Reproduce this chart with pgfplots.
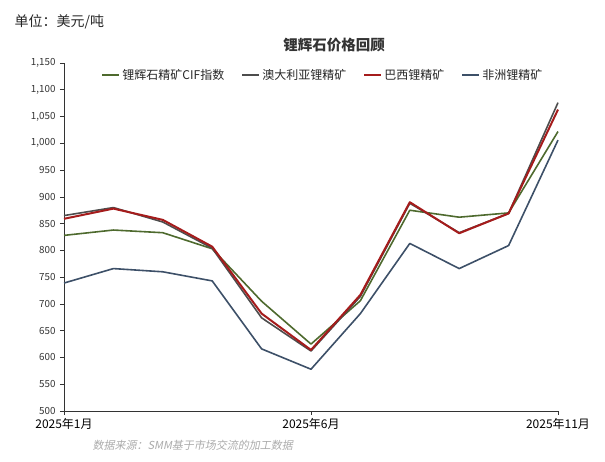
\documentclass[border=0pt]{standalone}
\usepackage{fontspec}
\setmainfont{Noto Sans CJK SC}[AutoFakeSlant=0.2]
\usepackage{pgfplots}
\pgfplotsset{compat=1.18}

\definecolor{cifgreen}{HTML}{4E6A2E}
\definecolor{ausgray}{HTML}{4D4D4D}
\definecolor{brred}{HTML}{A51C1C}
\definecolor{afblue}{HTML}{3D5068}
\definecolor{axisgray}{HTML}{333333}

\begin{document}
\begin{tikzpicture}[x=1pt,y=1pt]
\useasboundingbox (0,0) rectangle (605,462);
\node[anchor=west, font=\fontsize{14}{14}\selectfont, text=black!85] at (11,440) {单位：美元/吨};
\node[font=\fontsize{14.5}{14.5}\selectfont\bfseries, text=black!80] at (334,417) {锂辉石价格回顾};
\node[anchor=west, font=\fontsize{11}{11}\selectfont\itshape, text=black!33] at (89,17) {数据来源：SMM基于市场交流的加工数据};

\begin{axis}[
    at={(64pt,51pt)}, anchor=south west,
    scale only axis, width=494pt, height=348pt,
    xmin=1, xmax=11, ymin=500, ymax=1150,
    axis lines=left,
    axis line style={draw=axisgray, line width=0.8pt, -},
    xtick={1,6,11},
    xticklabels={2025年1月,2025年6月,2025年11月},
    ytick={500,550,...,1150},
    tick align=outside,
    major tick length=4pt,
    tick style={draw=axisgray, line width=0.6pt},
    /pgf/number format/assume math mode=true,
    /pgf/number format/1000 sep={,},
    yticklabel style={font=\fontsize{9.8}{9.8}\selectfont, text=black!80, xshift=-1pt},
    xticklabel style={font=\fontsize{12}{12}\selectfont, text=black},
    clip=false,
    legend columns=4,
    legend style={draw=none, fill=none, at={(0.524,0.966)}, anchor=center,
        font=\fontsize{12}{12}\selectfont, text=black!85,
        /tikz/every even column/.append style={column sep=15pt}},
    legend image code/.code={\draw[#1, line width=2pt] (0pt,0pt) -- (17pt,0pt);},
    every axis plot/.append style={line width=1.6pt, line join=round},
]

\addplot[color=cifgreen] coordinates {
    (1,828) (2,838) (3,833) (4,803) (5,705) (6,625) (7,706) (8,875) (9,862) (10,870) (11,1022)
};
\addlegendentry{锂辉石精矿CIF指数}

\addplot[color=ausgray] coordinates {
    (1,865) (2,880) (3,853) (4,804) (5,674) (6,612) (7,714) (8,888) (9,833) (10,869) (11,1076)
};
\addlegendentry{澳大利亚锂精矿}

\addplot[color=brred, line width=2pt] coordinates {
    (1,859) (2,878) (3,857) (4,807) (5,682) (6,614) (7,717) (8,890) (9,832) (10,869) (11,1063)
};
\addlegendentry{巴西锂精矿}

\addplot[color=afblue] coordinates {
    (1,739) (2,766) (3,760) (4,743) (5,616) (6,578) (7,682) (8,813) (9,766) (10,809) (11,1006)
};
\addlegendentry{非洲锂精矿}

\end{axis}
\end{tikzpicture}
\end{document}
